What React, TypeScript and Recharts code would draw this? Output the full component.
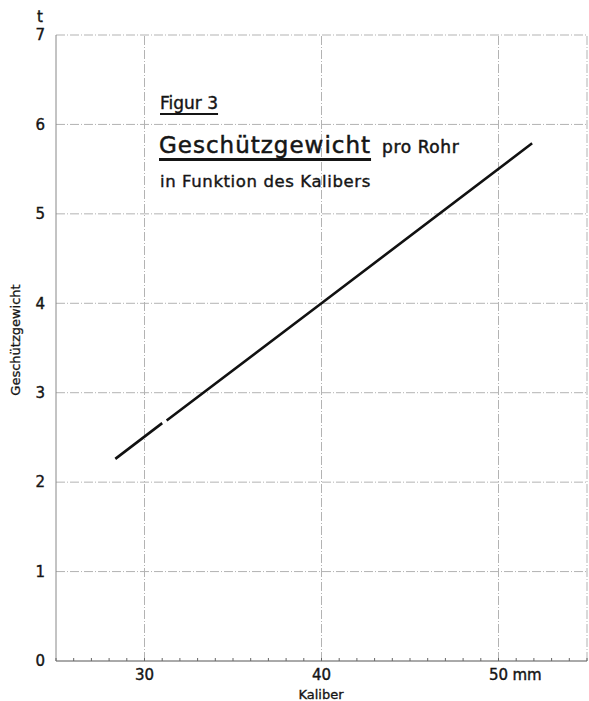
import React from "react";
import { LineChart, Line, XAxis, YAxis, ReferenceLine } from "recharts";

// Kaliber (mm) and Geschützgewicht (t); null marks the small gap in the line
const kaliber = [28.35, 31.0, 31.1, 31.25, 40, 51.9];
const gewicht: (number | null)[] = [2.26, 2.66, null, 2.69, 4.0, 5.79];

const xMinorTicks = [25, 26, 27, 28, 29, 30, 31, 32, 33, 34, 35, 36, 37, 38, 39, 40, 41, 42, 43, 44, 45, 46, 47, 48, 49, 50, 51, 52, 53, 54, 55];
const xMajorTicks = [30, 40, 50];
const xMajorLabels = ["30", "40", "50"];
const yTicks = [0, 1, 2, 3, 4, 5, 6, 7];
const yGrid = [1, 2, 3, 4, 5, 6, 7];
const xGrid = [30, 40, 50, 55];

const data = kaliber.map((k, i) => ({ k, g: gewicht[i] }));

const FONT = "'DejaVu Sans', sans-serif";
const INK = "#151515";
const GRID = "#b3b3b3";

const XTick = (props: any) => {
  const { x, y, payload } = props;
  const v = payload.value;
  const idx = xMajorTicks.indexOf(v);
  return (
    <g>
      <line x1={x} x2={x} y1={y} y2={y - 3} stroke="#666" strokeWidth={1} />
      {idx >= 0 && (
        <text x={x} y={y + 19} textAnchor="middle" fontFamily={FONT} fontSize={15} fill={INK} stroke={INK} strokeWidth={0.4}>
          {xMajorLabels[idx]}
        </text>
      )}
      {v === 50 && (
        <text x={x + 14} y={y + 19} textAnchor="start" fontFamily={FONT} fontSize={15} fill={INK} stroke={INK} strokeWidth={0.4}>
          mm
        </text>
      )}
    </g>
  );
};

const YLabel = () => (
  <g>
    <text x={40} y={22} textAnchor="middle" fontFamily={FONT} fontSize={15} fill={INK} stroke={INK} strokeWidth={0.4}>
      t
    </text>
    <text
      x={15}
      y={340}
      transform="rotate(-90 15 340)"
      textAnchor="middle"
      dominantBaseline="central"
      fontFamily={FONT}
      fontSize={13}
      fill={INK}
      stroke={INK}
      strokeWidth={0.3}
    >
      Geschützgewicht
    </text>
  </g>
);

const XLabel = () => (
  <text x={321} y={699} textAnchor="middle" fontFamily={FONT} fontSize={13} fill={INK} stroke={INK} strokeWidth={0.35}>
    Kaliber
  </text>
);

export default function App() {
  return (
    <div style={{ position: "absolute", left: 0, top: 0, width: 589, height: 701, background: "#fff" }}>
      <LineChart width={589} height={701} data={data} margin={{ top: 35, right: 2, bottom: 0, left: 0 }}>
        <XAxis
          dataKey="k"
          type="number"
          domain={[25, 55]}
          ticks={xMinorTicks}
          interval={0}
          tickSize={0}
          tickMargin={0}
          tickLine={false}
          tick={<XTick />}
          height={40}
          axisLine={{ stroke: "#555", strokeWidth: 1 }}
          label={<XLabel />}
        />
        <YAxis
          type="number"
          domain={[0, 7]}
          ticks={yTicks}
          interval={0}
          width={56}
          tickSize={0}
          tickMargin={11}
          tickLine={false}
          tick={{ fontFamily: FONT, fontSize: 15, fill: INK, stroke: INK, strokeWidth: 0.4 }}
          axisLine={{ stroke: "#888", strokeWidth: 1 }}
          label={<YLabel />}
        />
        {yGrid.map((v) => (
          <ReferenceLine key={"h" + v} y={v} stroke={GRID} strokeWidth={1} strokeDasharray="9 2 1 2" />
        ))}
        {xGrid.map((v) => (
          <ReferenceLine key={"v" + v} x={v} stroke={GRID} strokeWidth={1} strokeDasharray="9 2 1 2" />
        ))}
        <Line
          dataKey="g"
          type="linear"
          stroke="#111"
          strokeWidth={2.6}
          dot={false}
          connectNulls={false}
          isAnimationActive={false}
        />
      </LineChart>
      <div style={{ position: "absolute", left: 160, top: 95, fontFamily: FONT, color: INK, lineHeight: 1, WebkitTextStroke: "0.4px #151515" }}>
        <div style={{ fontSize: 17, textDecoration: "underline", textDecorationThickness: "2px", textUnderlineOffset: "4px" }}>
          Figur 3
        </div>
      </div>
      <div style={{ position: "absolute", left: 159, top: 134, fontFamily: FONT, color: INK, lineHeight: 1, whiteSpace: "nowrap", WebkitTextStroke: "0.5px #151515" }}>
        <span
          style={{
            fontSize: 23,
            letterSpacing: 1,
            textDecoration: "underline",
            textDecorationThickness: "3px",
            textUnderlineOffset: "5px",
          }}
        >
          Geschützgewicht
        </span>
        <span style={{ fontSize: 17, marginLeft: 11, letterSpacing: 0.6 }}>pro Rohr</span>
      </div>
      <div style={{ position: "absolute", left: 160, top: 174, fontFamily: FONT, color: INK, lineHeight: 1, whiteSpace: "nowrap", fontSize: 16.5, letterSpacing: 0.6, WebkitTextStroke: "0.4px #151515" }}>
        in Funktion des Kalibers
      </div>
    </div>
  );
}
